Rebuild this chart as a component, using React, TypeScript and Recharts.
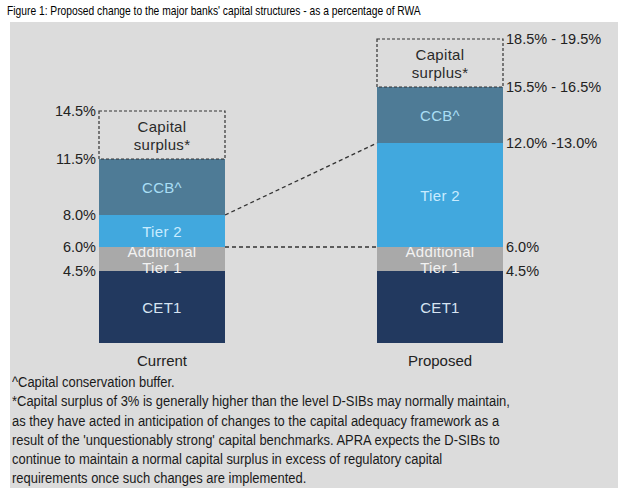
import React from "react";
import { BarChart, Bar, XAxis, YAxis } from "recharts";

const categories = ["Current", "Proposed"];
const cet1 = [4.5, 4.5];
const additionalTier1 = [1.5, 1.5];
const tier2 = [2.0, 6.5];
const ccb = [3.5, 3.5];
const capitalSurplus = [3.0, 3.0];

// boundary labels at the top of each segment
const currentLabels = ["4.5%", "6.0%", "8.0%", "11.5%", "14.5%"];
const proposedLabels = ["4.5%", "6.0%", "12.0% -13.0%", "15.5% - 16.5%", "18.5% - 19.5%"];

const segmentNames = [["CET1"], ["Additional", "Tier 1"], ["Tier 2"], ["CCB^"], ["Capital", "surplus*"]];

const footnotes = [
  "^Capital conservation buffer.",
  "*Capital surplus of 3% is generally higher than the level D-SIBs may normally maintain,",
  "as they have acted in anticipation of changes to the capital adequacy framework as a",
  "result of the 'unquestionably strong' capital benchmarks. APRA expects the D-SIBs to",
  "continue to maintain a normal capital surplus in excess of regulatory capital",
  "requirements once such changes are implemented.",
];

const data = categories.map((name, i) => ({
  name,
  cet1: cet1[i],
  at1: additionalTier1[i],
  tier2: tier2[i],
  ccb: ccb[i],
  surplus: capitalSurplus[i],
}));

const series = [
  { key: "cet1", fill: "#22395f", text: "#d6e4f2", connect: false },
  { key: "at1", fill: "#a9a9a9", text: "#f2f2f2", connect: true },
  { key: "tier2", fill: "#41a8de", text: "#c9ecff", connect: true },
  { key: "ccb", fill: "#4e7b96", text: "#a9def5", connect: false },
  { key: "surplus", fill: "none", text: "#2a2a2a", connect: false },
];

const FONT = "'Liberation Sans', Arial, sans-serif";

// right edge of the "Current" segment top, filled while rendering, used for connectors
const corners: Record<string, { x: number; y: number }> = {};

function makeShape(s: (typeof series)[number], i: number) {
  return (props: any) => {
    const { x, y, width, height, index } = props;
    const lines = segmentNames[i];
    const cx = x + width / 2;
    const cy = y + height / 2;
    const isSurplus = s.key === "surplus";
    const gap = s.key === "at1" ? 16 : 18;
    let connector = null;
    if (s.connect) {
      if (index === 0) corners[s.key] = { x: x + width, y };
      else if (corners[s.key]) {
        const c = corners[s.key];
        connector = (
          <line x1={c.x} y1={c.y} x2={x} y2={y} stroke="#333" strokeWidth={1.3} strokeDasharray="4 3" />
        );
      }
    }
    return (
      <g>
        <rect
          x={x}
          y={y}
          width={width}
          height={height}
          fill={s.fill}
          stroke={isSurplus ? "#333" : "none"}
          strokeWidth={1.2}
          strokeDasharray={isSurplus ? "3 2" : undefined}
        />
        <text x={cx} textAnchor="middle" fill={s.text} fontSize={15} fontFamily={FONT} letterSpacing={0.3}>
          {lines.map((l, k) => (
            <tspan key={k} x={cx} y={cy + (k - (lines.length - 1) / 2) * gap} dominantBaseline="central">
              {l}
            </tspan>
          ))}
        </text>
        {index === 0 ? (
          <text x={x - 3} y={y} textAnchor="end" dominantBaseline="central" fontSize={14.5} fill="#222" fontFamily={FONT}>
            {currentLabels[i]}
          </text>
        ) : (
          <text x={x + width + 3} y={y} textAnchor="start" dominantBaseline="central" fontSize={14.5} fill="#222" fontFamily={FONT}>
            {proposedLabels[i]}
          </text>
        )}
        {connector}
      </g>
    );
  };
}

export default function App() {
  return (
    <div style={{ position: "absolute", left: 0, top: 0, width: 626, height: 492, background: "#fff", overflow: "hidden" }}>
      <div
        style={{
          position: "absolute",
          left: 7,
          top: 3,
          fontFamily: FONT,
          fontSize: 13.5,
          color: "#000",
          whiteSpace: "nowrap",
          transform: "scaleX(0.76)",
          transformOrigin: "left top",
        }}
      >
        Figure 1: Proposed change to the major banks' capital structures - as a percentage of RWA
      </div>
      <div style={{ position: "absolute", left: 10, top: 22, width: 608, height: 466, background: "#dcdcdc" }} />
      <div style={{ position: "absolute", left: 0, top: 0 }}>
        <BarChart width={626} height={492} data={data} margin={{ top: 23, right: 47, left: 23, bottom: 119 }}>
          <XAxis
            dataKey="name"
            axisLine={false}
            tickLine={false}
            height={30}
            tickMargin={6}
            tick={{ fontSize: 15, fill: "#222", fontFamily: FONT }}
          />
          <YAxis hide domain={[0, 20]} />
          {series.map((s, i) => (
            <Bar
              key={s.key}
              dataKey={s.key}
              stackId="a"
              barSize={126}
              isAnimationActive={false}
              shape={makeShape(s, i)}
            />
          ))}
        </BarChart>
      </div>
      <div
        style={{
          position: "absolute",
          left: 12,
          top: 372,
          fontFamily: FONT,
          fontSize: 15.5,
          lineHeight: "19.3px",
          color: "#1a1a1a",
          whiteSpace: "nowrap",
          transform: "scaleX(0.835)",
          transformOrigin: "left top",
        }}
      >
        {footnotes.map((t, k) => (
          <div key={k}>{t}</div>
        ))}
      </div>
    </div>
  );
}
